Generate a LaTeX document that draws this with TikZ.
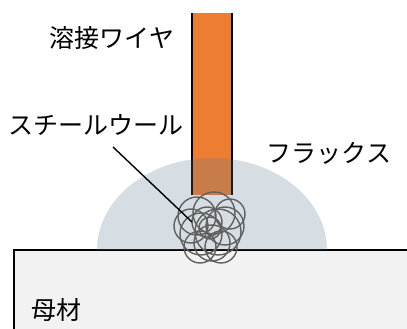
\documentclass[tikz,border=0pt]{standalone}
\usepackage{fontspec}
\setmainfont{Noto Sans CJK JP}
\usepackage{tikz}
\usetikzlibrary{positioning}

\definecolor{wirecol}{HTML}{ED7D31}
\definecolor{fluxcol}{HTML}{5A7A90}
\definecolor{woolcol}{HTML}{606060}

\begin{document}
\begin{tikzpicture} [
    x = 1pt, y = 1pt,
    lbl/.style = {font=\fontsize{25}{28}\selectfont, inner sep=0pt},
    wool/.style = {draw=woolcol, line width=1.4pt},
    lead/.style = {draw, line width=1.4pt}
    ]
    \useasboundingbox (0,0) rectangle (407,329);
    \begin{scope}
    \clip (0,0) rectangle (407,329);

    % base metal
    \fill[gray!10] (14,79) rectangle (420,-10);
    \draw[line width=1.8pt] (14,-10) -- (14,79) -- (420,79);

    % wire
    \fill[wirecol] (192,134) rectangle (232,316);
    \draw[line width=1.8pt] (192,134) -- (192,316);
    \draw[line width=1.8pt] (232,134) -- (232,316);

    % flux dome
    \fill[fluxcol, opacity=0.25] (97,79) arc (180:0:115 and 92) -- cycle;

    % steel wool
    \coordinate (woolc) at (210,103);
    \foreach \dx/\dy/\r in {-13/10/19, 4/13/21, 15/0/19, -9/-8/21, 2/-17/18,
        -19/0/17, 8/-6/23, -3/4/15, 20/12/15, -10/-21/16, 11/-21/16, 0/-2/11}
        \draw[wool] ([shift={(\dx,\dy)}]woolc) circle (\r);
    \end{scope}

    % labels
    \node[lbl] (wire) at (112,291) {溶接ワイヤ};
    \node[lbl] (steel) at (96,204) {スチールウール};
    \node[lbl] (flux) at (329,176) {フラックス};
    \node[lbl] (base) at (56,19) {母材};

    \coordinate (lstart) at (113,182);
    \coordinate (lend) at (192,107);
    \draw[lead] (lstart) -- (lend);
\end{tikzpicture}
\end{document}
